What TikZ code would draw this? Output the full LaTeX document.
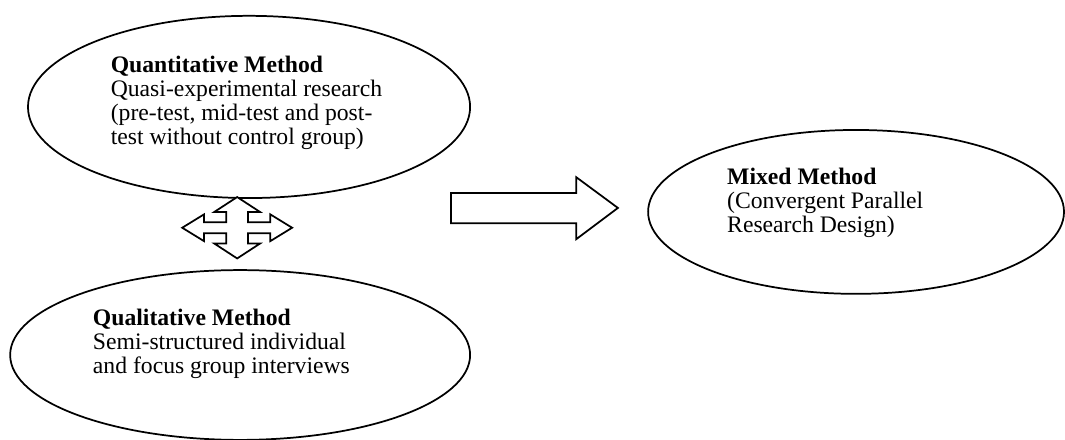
\documentclass[tikz,border=0pt]{standalone}
\usepackage{fontspec}
\setmainfont{Liberation Serif}
\usepackage{tikz}
\usetikzlibrary{shapes.geometric}

\tikzset{
  method/.style={draw=black, ellipse, fill=white, inner sep=0pt},
  methodtext/.style={align=left, anchor=north west, inner sep=0pt,
    font=\fontsize{13.6}{13.8}\selectfont}
}

\begin{document}
\begin{tikzpicture}[line width=1pt]
\useasboundingbox (0,0) rectangle (21.51,8.87) ;
% ellipse Quantitative
\node[method, minimum width=8.93cm, minimum height=3.68cm] (quant) at (5.03,6.71) {} ;
\node[methodtext] (quanttext) at (2.22,7.76)
  {\textbf{Quantitative Method}\\Quasi-experimental research\\(pre-test, mid-test and post-\\test without control group)} ;
% ellipse Qualitative
\node[method, minimum width=9.29cm, minimum height=3.43cm] (qual) at (4.85,1.70) {} ;
\node[methodtext] (qualtext) at (1.86,2.65)
  {\textbf{Qualitative Method}\\Semi-structured individual\\and focus group interviews} ;
% ellipse Mixed
\node[method, minimum width=8.40cm, minimum height=3.31cm] (mixed) at (17.29,4.59) {} ;
\node[methodtext] (mixedtext) at (14.67,5.49)
  {\textbf{Mixed Method}\\(Convergent Parallel\\Research Design)} ;
%% quad arrow
\begin{scope}[shift={(4.79,4.27)}]
\draw[black,fill=white,line join=miter] (0,0.62) -- (0.46,0.32) -- (0.22,0.32) -- (0.22,0.11)
  -- (0.67,0.11) -- (0.67,0.27) -- (1.11,0) -- (0.67,-0.27) -- (0.67,-0.11)
  -- (0.22,-0.11) -- (0.22,-0.32) -- (0.46,-0.32) -- (0,-0.62) -- (-0.46,-0.32)
  -- (-0.22,-0.32) -- (-0.22,-0.11) -- (-0.67,-0.11) -- (-0.67,-0.27) -- (-1.11,0)
  -- (-0.67,0.27) -- (-0.67,0.11) -- (-0.22,0.11) -- (-0.22,0.32) -- (-0.46,0.32) -- cycle ;
\end{scope}
% block arrow
\coordinate (A) at (9.11,4.36) ;
\coordinate (B) at (11.64,4.36) ;
\coordinate (C) at (11.64,4.04) ;
\coordinate (D) at (12.48,4.67) ;
\coordinate (E) at (11.64,5.29) ;
\coordinate (F) at (11.64,4.97) ;
\coordinate (G) at (9.11,4.97) ;
\draw[black,fill=white] (A) -- (B) -- (C) -- (D) -- (E) -- (F) -- (G) -- cycle ;
\end{tikzpicture}
\end{document}
